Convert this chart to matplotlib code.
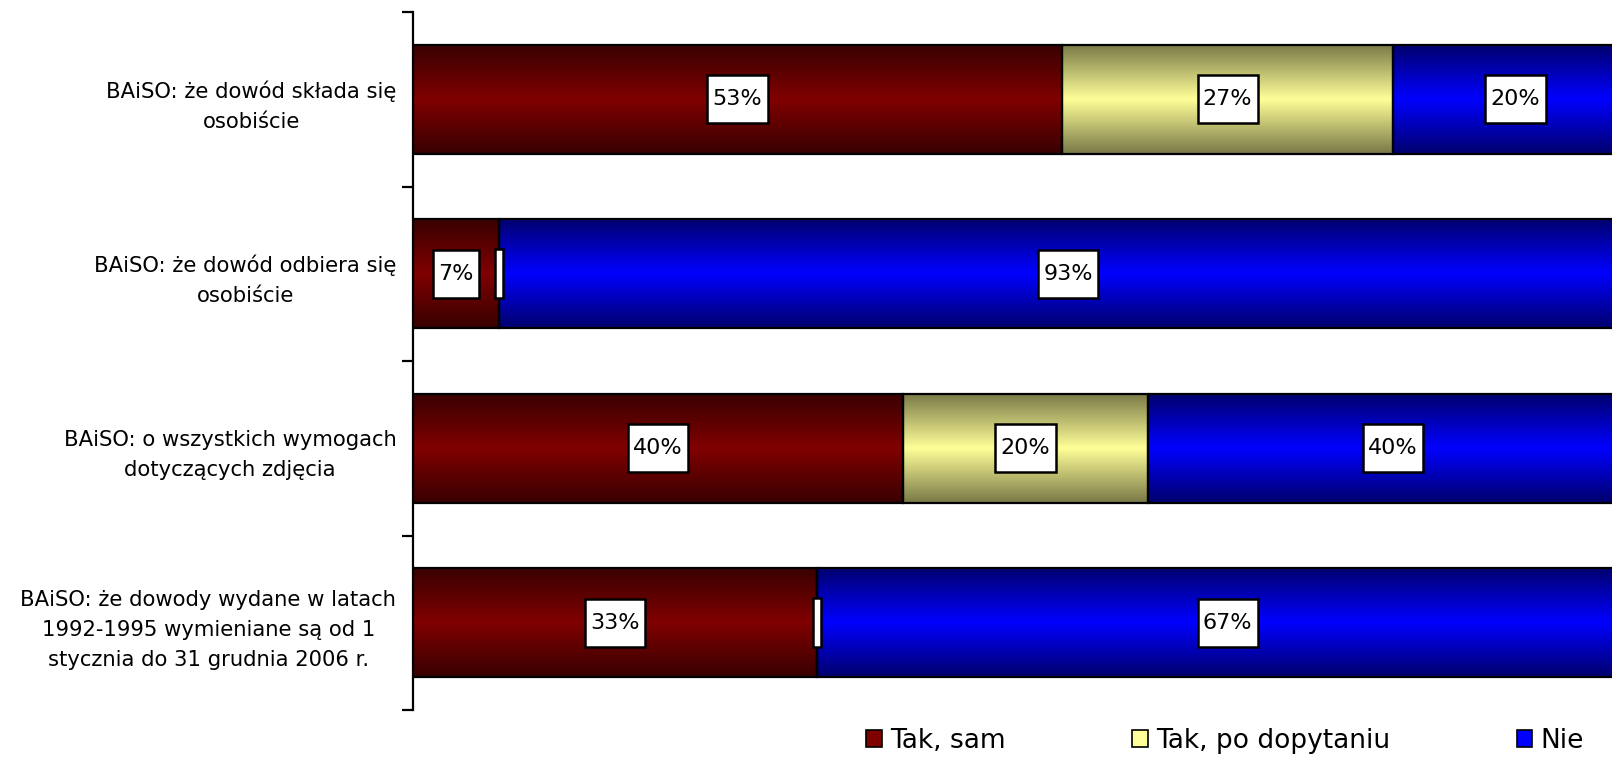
import numpy as np
import matplotlib
matplotlib.use("Agg")
import matplotlib.pyplot as plt
from matplotlib.colors import LinearSegmentedColormap
from matplotlib.patches import Rectangle
from matplotlib.path import Path

categories = [
    "BAiSO: że dowód składa się\nosobiście",
    "BAiSO: że dowód odbiera się\nosobiście",
    "BAiSO: o wszystkich wymogach\ndotyczących zdjęcia",
    "BAiSO: że dowody wydane w latach\n1992-1995 wymieniane są od 1\nstycznia do 31 grudnia 2006 r.",
]
series_names = ["Tak, sam", "Tak, po dopytaniu", "Nie"]
tak_sam = [53, 7, 40, 33]
tak_po_dopytaniu = [27, 0, 20, 0]
nie = [20, 93, 40, 67]
series = [tak_sam, tak_po_dopytaniu, nie]
center_colors = ["#800000", "#FFFF99", "#0000FF"]
edge_colors = ["#380000", "#787846", "#00006c"]

plt.rcParams['font.family'] = ['DejaVu Sans']
fig = plt.figure(figsize=(16.12, 7.59), dpi=100)
W, H = 1612, 759
left_px, top_px, bottom_px = 413, 12, 710
width_px = 1225
ax = fig.add_axes([left_px / W, (H - bottom_px) / H, width_px / W, (bottom_px - top_px) / H])


def label_box(x0, y0, width, height, mutation_size):
    px = 0.24 * mutation_size
    py = 0.62 * mutation_size
    xa, xb = x0 - px, x0 + width + px
    ya, yb = y0 - py, y0 + height + py
    return Path([(xa, ya), (xb, ya), (xb, yb), (xa, yb), (xa, ya)], closed=True)


def thin_box(x0, y0, width, height, mutation_size):
    px = 0.19 * mutation_size
    py = 0.66 * mutation_size
    cx = x0 + width / 2
    xa, xb = cx - px, cx + px
    ya, yb = y0 - py, y0 + height + py
    return Path([(xa, ya), (xb, ya), (xb, yb), (xa, yb), (xa, ya)], closed=True)


y = np.arange(len(categories))
bar_h = 0.625
grad = np.linspace(0, 1, 256)
prof = 1 - np.abs(grad - 0.5) * 2  # 0 at edges, 1 center

left = np.zeros(len(categories))
for vals, cc, ec in zip(series, center_colors, edge_colors):
    cmap = LinearSegmentedColormap.from_list("g", [ec, cc])
    bars = ax.barh(y, vals, left=left, height=bar_h, facecolor="none",
                   edgecolor="black", linewidth=1.6, zorder=3)
    for b, v in zip(bars, vals):
        x0, y0 = b.get_x(), b.get_y()
        w, h = b.get_width(), b.get_height()
        if w > 0:
            ax.imshow(prof.reshape(-1, 1), cmap=cmap, vmin=0, vmax=1,
                      extent=(x0, x0 + w, y0 + h, y0), aspect="auto",
                      interpolation="bicubic", zorder=2)
    for yi, (l, v) in enumerate(zip(left, vals)):
        txt = f"{v}%" if v > 0 else "\u200a"
        ax.text(l + v / 2, yi, txt, ha="center", va="center", fontsize=16,
                zorder=5,
                bbox=dict(boxstyle=label_box if v > 0 else thin_box,
                          facecolor="white", edgecolor="black", linewidth=1.8))
    left = left + np.array(vals)

ax.set_xlim(0, 100)
ax.set_ylim(len(categories) - 0.5, -0.5)
ax.set_yticks(y)
ax.set_yticklabels(categories, fontsize=15.2, multialignment="center", linespacing=1.62)
ax.set_yticks(np.arange(-0.5, len(categories)), minor=True)
ax.tick_params(axis="y", which="major", length=0, pad=12)
ax.tick_params(axis="y", which="minor", length=8, width=1.6, direction="out")
ax.set_xticks([])
for s in ["top", "right", "bottom"]:
    ax.spines[s].set_visible(False)
ax.spines["left"].set_linewidth(1.6)

handles = [Rectangle((0, 0), 1, 1, facecolor=c, edgecolor="black", linewidth=1.2)
           for c in center_colors]
fig.legend(handles, series_names, loc="center left", bbox_to_anchor=(866 / W, 1 - 741 / H),
           ncol=3, frameon=False, fontsize=19, handlelength=0.6, handleheight=0.6,
           handletextpad=0.3, columnspacing=4.8, borderaxespad=0, borderpad=0)

fig.savefig("out.png", dpi=100)
